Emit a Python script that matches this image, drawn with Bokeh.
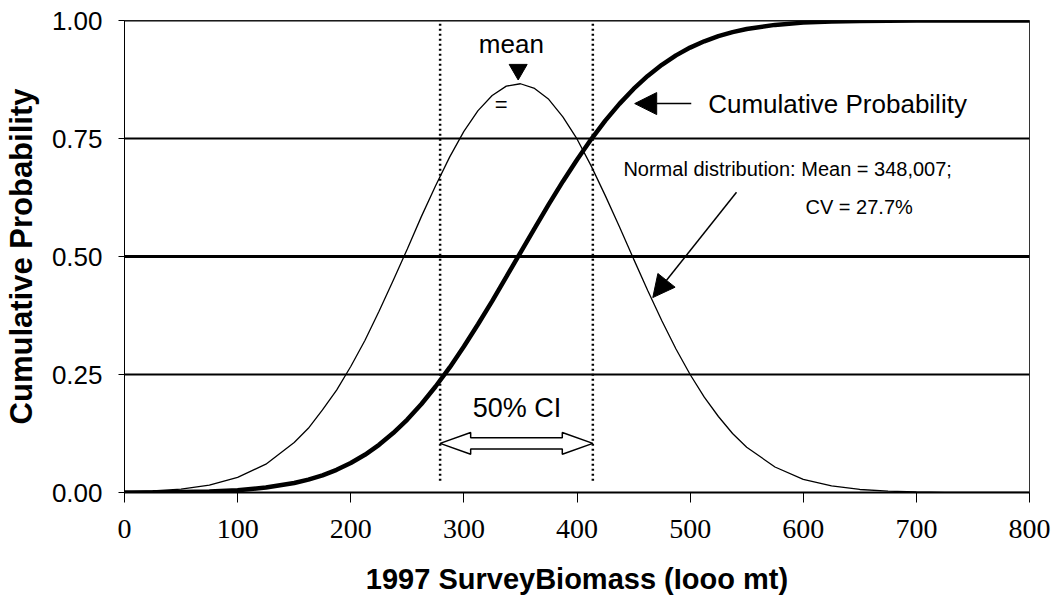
from bokeh.plotting import figure
from bokeh.models import (Range1d, FixedTicker, PrintfTickFormatter, Span, Label,
                          Arrow, NormalHead)
from bokeh.embed import file_html
from bokeh.resources import INLINE

# ---------------- data ----------------
biomass = [0, 25, 50, 75, 100, 125, 150, 162.5, 175, 187.5, 200, 212.5, 225, 237.5,
           250, 262.5, 275, 287.5, 300, 312.5, 325, 337.5, 350, 362.5, 375, 387.5,
           400, 412.5, 425, 437.5, 450, 462.5, 475, 487.5, 500, 512.5, 525, 537.5,
           550, 575, 600, 625, 650, 675, 700, 725, 750, 775, 800]
cum_prob = [0.0002, 0.0004, 0.001, 0.0023, 0.005, 0.0104, 0.020, 0.0272, 0.0363,
            0.048, 0.0624, 0.0799, 0.101, 0.1259, 0.1546, 0.1875, 0.2245, 0.265,
            0.3093, 0.3564, 0.4056, 0.4566, 0.5083, 0.5596, 0.6103, 0.6591, 0.7051,
            0.7483, 0.7878, 0.8233, 0.855, 0.8826, 0.9061, 0.9261, 0.9426, 0.956,
            0.9668, 0.9754, 0.9819, 0.9907, 0.9955, 0.998, 0.9991, 0.9997, 1.0,
            1.0, 1.0, 1.0, 1.0]
density = [0.0013, 0.0032, 0.0073, 0.0157, 0.032, 0.060, 0.106, 0.136, 0.175, 0.217,
           0.267, 0.322, 0.384, 0.449, 0.516, 0.585, 0.650, 0.711, 0.765, 0.809,
           0.841, 0.861, 0.866, 0.856, 0.833, 0.796, 0.749, 0.692, 0.629, 0.563,
           0.495, 0.428, 0.364, 0.304, 0.250, 0.202, 0.161, 0.125, 0.096, 0.054,
           0.028, 0.014, 0.0064, 0.0028, 0.0011, 0.0004, 0.0001, 0.0, 0.0]
ci_bounds = [279, 414]
mean_val = 348
x_ticks = [0, 100, 200, 300, 400, 500, 600, 700, 800]
y_ticks = [0.0, 0.25, 0.50, 0.75, 1.00]
grid_levels = [0.25, 0.50, 0.75, 1.00]
grid_widths = [2, 3, 2, 2]

SANS = "Liberation Sans"
SERIF = "Liberation Serif"

p = figure(width=1055, height=602, x_range=Range1d(0, 800), y_range=Range1d(0, 1),
           output_backend="svg", toolbar_location=None,
           min_border_left=122, min_border_right=26, min_border_top=20,
           min_border_bottom=110)
p.xgrid.visible = False
p.ygrid.visible = False
p.outline_line_color = "black"
p.outline_line_width = 1
p.outline_line_alpha = 0.8
p.background_fill_color = "white"
p.border_fill_color = "white"

# x axis
xa = p.xaxis[0]
xa.ticker = FixedTicker(ticks=x_ticks)
xa.major_label_text_font = SERIF
xa.major_label_text_font_size = "28px"
xa.major_label_text_color = "black"
xa.major_tick_out = 10
xa.major_tick_in = 0
xa.minor_tick_out = 0
xa.minor_tick_in = 0
xa.axis_line_width = 2
xa.axis_line_color = "black"
xa.major_tick_line_color = "black"
xa.major_label_standoff = 17
xa.axis_label = "1997 SurveyBiomass (Iooo mt)"
xa.axis_label_text_font = SANS
xa.axis_label_text_font_style = "bold"
xa.axis_label_text_font_size = "29px"
xa.axis_label_text_color = "black"
xa.axis_label_standoff = 22

# y axis
ya = p.yaxis[0]
ya.ticker = FixedTicker(ticks=y_ticks)
ya.formatter = PrintfTickFormatter(format="%.2f")
ya.major_label_text_font = SANS
ya.major_label_text_font_size = "26px"
ya.major_label_text_color = "black"
ya.major_tick_out = 6
ya.major_tick_in = 0
ya.minor_tick_out = 0
ya.minor_tick_in = 0
ya.axis_line_width = 1
ya.axis_line_color = "black"
ya.major_tick_line_color = "black"
ya.major_label_standoff = 16
ya.axis_label = "Cumulative Probability"
ya.axis_label_text_font = SANS
ya.axis_label_text_font_style = "bold"
ya.axis_label_text_font_size = "31px"
ya.axis_label_text_color = "black"
ya.axis_label_standoff = 10

# horizontal grid lines
for lvl, w in zip(grid_levels, grid_widths):
    p.add_layout(Span(location=lvl, dimension="width", line_color="black", line_width=w))

# dotted CI lines
p.segment(x0=ci_bounds, y0=[0.025, 0.025], x1=ci_bounds, y1=[1.0, 1.0],
          line_color="black", line_width=2.5, line_dash="2 3")

# curves
p.line(biomass, density, line_color="black", line_width=1.3)
p.line(biomass, cum_prob, line_color="black", line_width=4.5)

# hollow double arrow for 50% CI
x0, x1 = ci_bounds
yc, hl, hh, sh = 0.104, 27, 0.023, 0.012
ax = [x0, x0 + hl, x0 + hl, x1 - hl, x1 - hl, x1, x1 - hl, x1 - hl, x0 + hl, x0 + hl]
ay = [yc, yc + hh, yc + sh, yc + sh, yc + hh, yc, yc - hh, yc - sh, yc - sh, yc - hh]
p.patch(ax, ay, fill_color="white", line_color="black", line_width=1.5)

# mean marker
p.scatter(x=[mean_val], y=[0.896], marker="inverted_triangle", size=18,
          fill_color="black", line_color="black")

# arrows
p.add_layout(Arrow(end=NormalHead(size=22, fill_color="black", line_color="black"),
                   x_start=501, y_start=0.824, x_end=451, y_end=0.824,
                   line_color="black", line_width=1.5))
p.add_layout(Arrow(end=NormalHead(size=22, fill_color="black", line_color="black"),
                   x_start=541, y_start=0.636, x_end=467, y_end=0.413,
                   line_color="black", line_width=1.5))


def lab(x, y, text, size, align="left", base="middle", style="normal", font=SANS):
    p.add_layout(Label(x=x, y=y, text=text, text_font=font, text_font_size=size,
                       text_align=align, text_baseline=base, text_font_style=style,
                       text_color="black"))


lab(342, 0.951, "mean", "26px", align="center")
lab(333, 0.822, "=", "22px", align="center")
lab(516, 0.824, "Cumulative Probability", "26px")
lab(441, 0.686, "Normal distribution: Mean = 348,007;", "20px")
lab(602, 0.604, "CV = 27.7%", "20px")
lab(347, 0.178, "50% CI", "27px", align="center")

open("out.html", "w").write(file_html(p, INLINE))
